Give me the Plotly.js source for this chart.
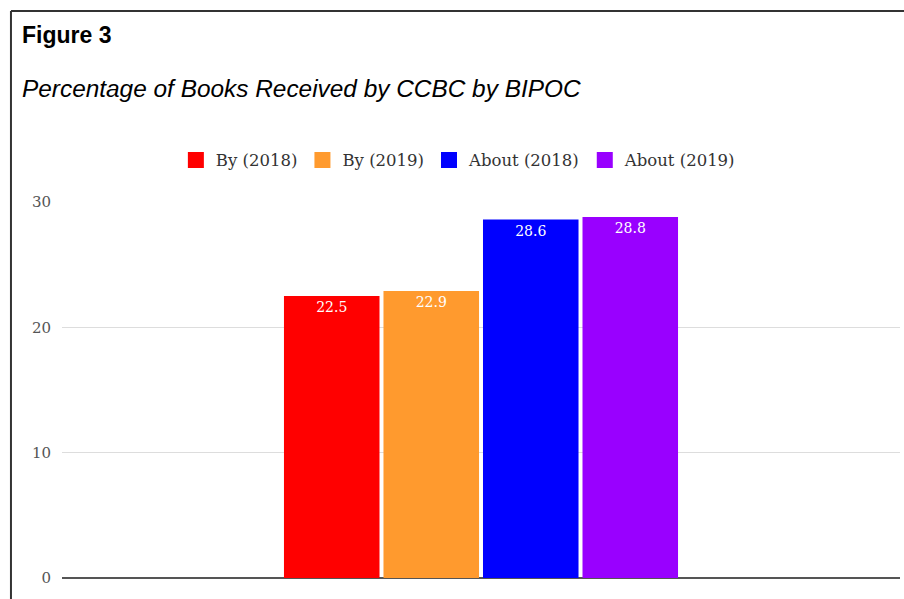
<!DOCTYPE html>
<html>
<head>
<meta charset="utf-8">
<script src="https://cdn.plot.ly/plotly-3.0.1.min.js"></script>
<style>html,body{margin:0;padding:0;background:#fff;}#chart{width:904px;height:599px;}</style>
</head>
<body>
<div id="chart"></div>
<script>
var category = ["BIPOC"];
var seriesNames = ["By (2018)", "By (2019)", "About (2018)", "About (2019)"];
var seriesValues = [22.5, 22.9, 28.6, 28.8];
var seriesColors = ["#ff0000", "#ff9a2e", "#0000ff", "#9900ff"];
var yTicks = [0, 10, 20, 30];

var serif = "DejaVu Serif, Georgia, serif";
var traces = seriesNames.map(function(name, i) {
  return {
    type: "bar",
    name: name,
    x: category,
    y: [seriesValues[i]],
    marker: {color: seriesColors[i]},
    text: [seriesValues[i].toFixed(1)],
    textposition: "inside",
    insidetextanchor: "end",
    textfont: {family: serif, size: 14, color: "#ffffff"},
    showlegend: false,
    hoverinfo: "name+y"
  };
});
// legend entries (no drawn data) with larger square swatches
seriesNames.forEach(function(name, i) {
  traces.push({
    type: "scatter", mode: "markers", name: name,
    x: category, y: [null],
    marker: {symbol: "square", size: 16, color: seriesColors[i]},
    showlegend: true, hoverinfo: "skip"
  });
});

var layout = {
  width: 904, height: 599,
  margin: {l: 62, r: 4, t: 202, b: 21},
  paper_bgcolor: "#ffffff", plot_bgcolor: "#ffffff",
  barmode: "group", bargap: 0.525, bargroupgap: 0.04,
  showlegend: true,
  legend: {orientation: "h", x: 0.473, xanchor: "center", y: 1.111, yanchor: "middle",
           font: {family: serif, size: 16.5, color: "#333"}, itemwidth: 30, traceorder: "normal"},
  xaxis: {showticklabels: false, showgrid: false, zeroline: false, showline: false, ticks: ""},
  yaxis: {range: [0, 30], tickvals: yTicks, ticktext: yTicks.map(String), showgrid: true,
          gridcolor: "#dddddd", gridwidth: 1, zeroline: true, zerolinecolor: "#555555", zerolinewidth: 2,
          showline: false, ticks: "", ticklabelstandoff: 10,
          tickfont: {family: serif, size: 15, color: "#555"}},
  annotations: [
    {xref: "paper", yref: "paper", x: -0.05, y: 1.444, xanchor: "left", yanchor: "middle",
     text: "<b>Figure 3</b>", showarrow: false, font: {family: "Liberation Sans, Arial, sans-serif", size: 23, color: "#000"}},
    {xref: "paper", yref: "paper", x: -0.05, y: 1.303, xanchor: "left", yanchor: "middle",
     text: "<i>Percentage of Books Received by CCBC by BIPOC</i>", showarrow: false,
     font: {family: "Liberation Sans, Arial, sans-serif", size: 24.4, color: "#000"}}
  ],
  shapes: [
    {type: "line", xref: "paper", yref: "paper", x0: -0.0609, x1: -0.0609, y0: 1.508, y1: -0.08, line: {color: "#333", width: 2}},
    {type: "line", xref: "paper", yref: "paper", x0: -0.0609, x1: 1.01, y0: 1.508, y1: 1.508, line: {color: "#333", width: 2}}
  ]
};

Plotly.newPlot("chart", traces, layout, {displayModeBar: false, staticPlot: true});
</script>
</body>
</html>
